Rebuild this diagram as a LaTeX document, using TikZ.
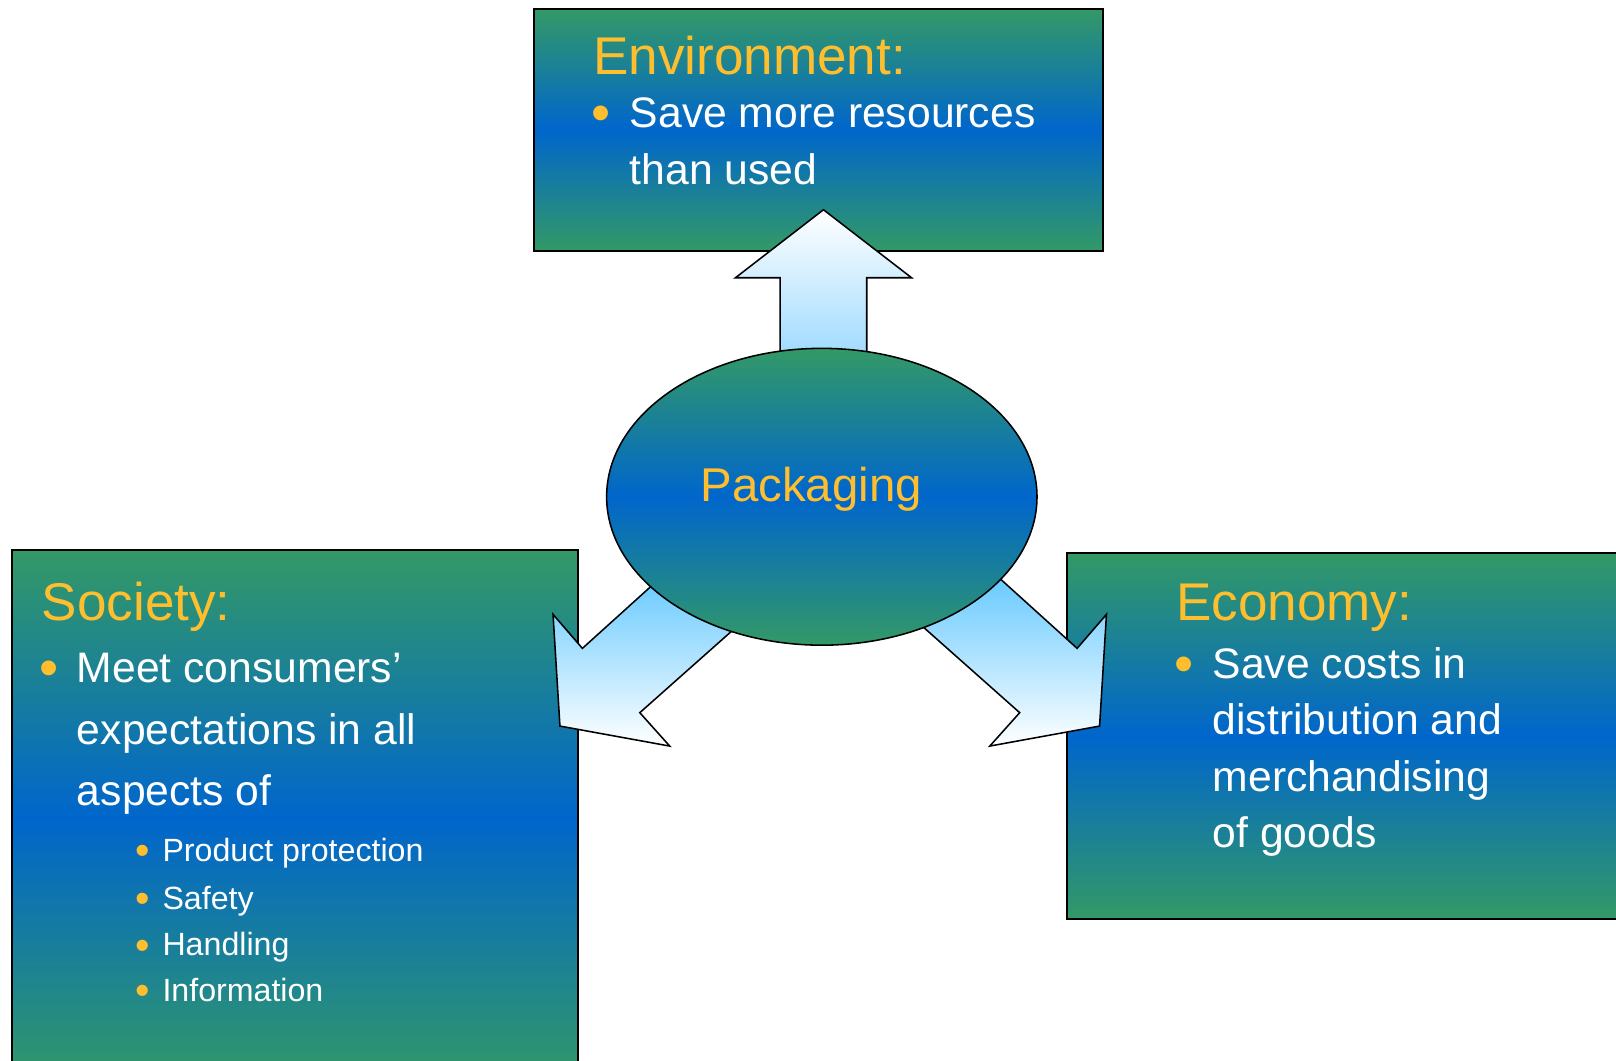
\documentclass[tikz,border=0pt]{standalone}
\usepackage{fontspec}
\setmainfont{Liberation Sans}
\usetikzlibrary{shapes.geometric}
\definecolor{boxgreen}{RGB}{51,153,102}
\definecolor{boxblue}{RGB}{0,102,204}
\definecolor{titleorange}{RGB}{255,190,45}
\definecolor{shaftblue}{RGB}{150,215,255}
\definecolor{arrowblue}{RGB}{85,195,255}
\begin{document}
\begin{tikzpicture}[x=1pt,y=-1pt,
  panel/.style={draw=black, line width=2pt, rectangle, inner sep=0pt,
    top color=boxgreen, bottom color=boxgreen, middle color=boxblue},
  hub/.style={draw=black, line width=1.5pt, ellipse, inner sep=0pt,
    top color=boxgreen, bottom color=boxgreen, middle color=boxblue},
  blockarrow/.style={draw=black, line width=1.5pt, line join=miter},
  title/.style={anchor=base west, inner sep=0pt, text=titleorange,
    font=\fontsize{51.5}{60}\selectfont},
  body/.style={anchor=base west, inner sep=0pt, text=white,
    font=\fontsize{41.4}{49}\selectfont},
  subbody/.style={anchor=base west, inner sep=0pt, text=white,
    font=\fontsize{31.2}{37}\selectfont},
  mark1/.style={anchor=base west, inner sep=0pt, text=titleorange,
    font=\fontsize{53}{60}\selectfont},
  mark2/.style={anchor=base west, inner sep=0pt, text=titleorange,
    font=\fontsize{40}{48}\selectfont}]

\useasboundingbox (0,0) rectangle (1568,1029);
\clip (0,0) rectangle (1568,1029);

% the three panels
\node[panel, minimum width=551.9pt, minimum height=234.5pt] (env) at (794.25,125.95) {};
\node[panel, minimum width=548.8pt, minimum height=519.3pt] (soc) at (286.3,793.35) {};
\node[panel, minimum width=564.3pt, minimum height=355.1pt] (eco) at (1317.85,714.45) {};

% block arrows leaving the hub
\draw[blockarrow, top color=white, bottom color=shaftblue]
  (757,360) -- (757,269.5) -- (713.6,269.5) -- (799,203.5) -- (884.5,269.5)
  -- (841,269.5) -- (841,360) -- cycle;
\draw[blockarrow, top color=arrowblue, bottom color=white]
  (664.3,539.4) -- (565.1,629.1) -- (536.6,596.1) -- (543.3,704.5)
  -- (649.8,723.9) -- (620.8,691.5) -- (744.6,581.6) -- cycle;
\draw[blockarrow, top color=arrowblue, bottom color=white]
  (945.9,539.4) -- (1045.1,629.1) -- (1073.6,596.1) -- (1066.9,704.5)
  -- (960.4,723.9) -- (989.4,691.5) -- (865.6,581.6) -- cycle;

% central hub
\node[hub, minimum width=417.6pt, minimum height=288pt] (pkg) at (797.4,482) {};
\node[anchor=base, inner sep=0pt, text=titleorange,
  font=\fontsize{46}{55}\selectfont] (pkgtext) at (787,486.8) {Packaging};

% Environment panel text
\node[title] (envt) at (575.5,71.8) {Environment:};
\node[mark1] (envb) at (573.5,127.9) {•};
\node[body] (env1) at (611,123.9) {Save more resources};
\node[body] (env2) at (611,178.9) {than used};

% Society panel text
\node[title] (soct) at (40.5,601.6) {Society:};
\node[mark1] (socb) at (38,666.4) {•};
\node[body] (soc1) at (74.5,662.4) {Meet consumers’};
\node[body] (soc2) at (74.5,721.9) {expectations in all};
\node[body] (soc3) at (74.5,781.8) {aspects of};
\node[mark2] (socb1) at (131.5,839) {•};
\node[subbody] (soc4) at (157.5,836) {Product protection};
\node[mark2] (socb2) at (131.5,885) {•};
\node[subbody] (soc5) at (157.5,882) {Safety};
\node[mark2] (socb3) at (131.5,930.5) {•};
\node[subbody] (soc6) at (157.5,927.5) {Handling};
\node[mark2] (socb4) at (131.5,975) {•};
\node[subbody] (soc7) at (157.5,972) {Information};

% Economy panel text
\node[title] (ecot) at (1141,601.6) {Economy:};
\node[mark1] (ecob) at (1139,662.2) {•};
\node[body] (eco1) at (1176.5,658.2) {Save costs in};
\node[body] (eco2) at (1176.5,713) {distribution and};
\node[body] (eco3) at (1176.5,768) {merchandising};
\node[body] (eco4) at (1176.5,822.5) {of goods};
\end{tikzpicture}
\end{document}
